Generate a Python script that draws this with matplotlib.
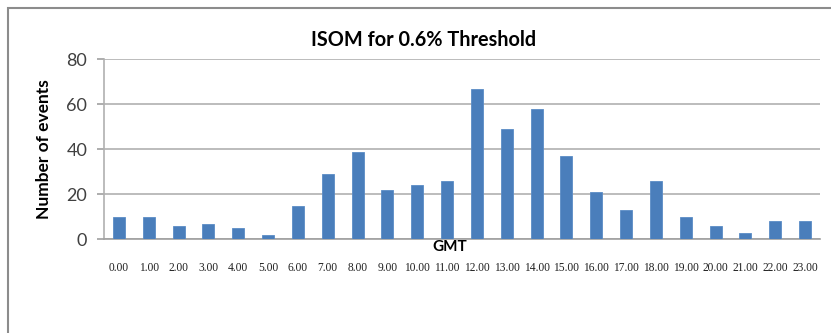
import matplotlib
matplotlib.use("Agg")
import matplotlib.pyplot as plt
from matplotlib.patches import Rectangle

# Hourly event counts (GMT)
hours = ["0.00", "1.00", "2.00", "3.00", "4.00", "5.00", "6.00", "7.00",
         "8.00", "9.00", "10.00", "11.00", "12.00", "13.00", "14.00", "15.00",
         "16.00", "17.00", "18.00", "19.00", "20.00", "21.00", "22.00", "23.00"]
events = [10, 10, 6, 7, 5, 2, 15, 29, 39, 22, 24, 26,
          67, 49, 58, 37, 21, 13, 26, 10, 6, 3, 8, 8]
y_ticks = [0, 20, 40, 60, 80]

W, H = 831, 333
fig = plt.figure(figsize=(W / 100, H / 100), dpi=100)

# outer chart frame (runs off the right and bottom edges)
fig.patches.append(Rectangle((8 / W, -0.1), 1.0, 1 - 8 / H + 0.1,
                             transform=fig.transFigure, fill=False,
                             edgecolor="#8c8c8c", linewidth=1.5))

ax = fig.add_axes([104 / W, 93.7 / H, 716 / W, 180 / H])
x = list(range(len(hours)))
ax.bar(x, events, width=0.4, color="#4a7ebb", edgecolor="#5b8cc6", linewidth=0.6, zorder=3)

ax.set_xlim(-0.5, len(hours) - 0.5)
ax.set_ylim(0, 80)
ax.set_yticks(y_ticks)
ax.set_yticklabels([str(v) for v in y_ticks], fontfamily="Lato", fontsize=13, color="#404040")
ax.set_xticks(x)
ax.set_xticklabels(hours, fontfamily="Liberation Serif", fontsize=8.3, color="#202020")
ax.tick_params(axis="x", length=0, pad=16.5)
ax.tick_params(axis="y", length=5, color="#a0a0a0", width=1.2, pad=7)
ax.grid(axis="y", color="#b0b0b0", linewidth=1.2, zorder=0)

for s in ["top", "right"]:
    ax.spines[s].set_visible(False)
ax.spines["left"].set_color("#b0b0b0")
ax.spines["left"].set_linewidth(1.2)
ax.spines["bottom"].set_color("#a0a0a0")
ax.spines["bottom"].set_linewidth(1.2)

ax.set_ylabel("Number of events", fontfamily="Lato", fontweight="bold", fontsize=12.5)
ax.yaxis.set_label_coords(-0.073, 0.5)
ax.text(11.1, -3.6, "GMT", ha="center", va="center", fontfamily="Lato",
        fontweight="bold", fontsize=11, clip_on=False)

fig.text(424 / W, 1 - 40 / H, "ISOM for 0.6% Threshold", ha="center", va="center",
         fontfamily="Lato", fontweight="bold", fontsize=14.3)

fig.savefig("out.png", dpi=100)
